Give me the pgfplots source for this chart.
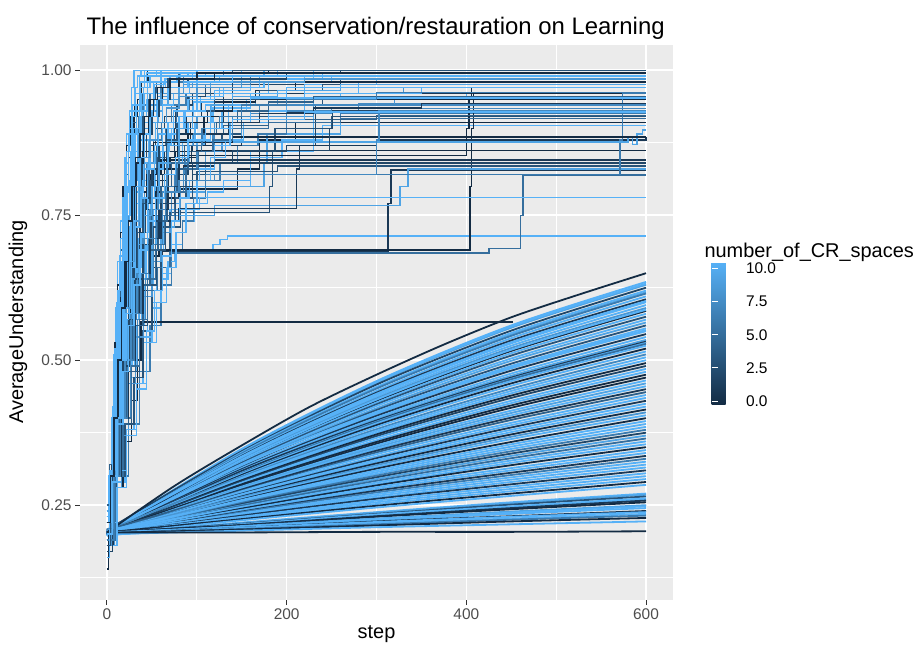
\documentclass[border=0pt]{standalone}
\usepackage{fontspec}
\setmainfont{Liberation Sans}
\usepackage{pgfplots}
\pgfplotsset{compat=1.18}
\pgfkeys{/pgf/number format/assume math mode=true}

\definecolor{panelbg}{HTML}{EBEBEB}
\definecolor{ticktext}{HTML}{4D4D4D}
\definecolor{tickmark}{HTML}{333333}
\definecolor{c0}{HTML}{132B43}
\definecolor{c10}{HTML}{56B1F7}
% colour of a run by its number_of_CR_spaces (0 ... 10)
\colorlet{k0}{c0}
\colorlet{k1}{c10!10!c0}
\colorlet{k2}{c10!20!c0}
\colorlet{k3}{c10!30!c0}
\colorlet{k4}{c10!40!c0}
\colorlet{k5}{c10!50!c0}
\colorlet{k6}{c10!60!c0}
\colorlet{k7}{c10!70!c0}
\colorlet{k8}{c10!80!c0}
\colorlet{k9}{c10!90!c0}
\colorlet{k10}{c10}

\pgfplotsset{
  lo/.style={line width=1.8bp, smooth, tension=0.5},
  up/.style={const plot, line width=1.4bp},
}

\begin{document}
\begin{tikzpicture}
\useasboundingbox (0,0) rectangle (914bp,646bp);
\begin{axis}[
  at={(80bp,46bp)}, anchor=south west,
  scale only axis, width=593bp, height=555bp,
  xmin=-30, xmax=630, ymin=0.0865, ymax=1.0435,
  xtick={0,200,400,600}, minor xtick={100,300,500},
  ytick={0.25,0.5,0.75,1}, minor ytick={0.125,0.375,0.625,0.875},
  grid=both,
  major grid style={white, line width=1.6bp},
  minor grid style={white, line width=0.8bp},
  axis background/.style={fill=panelbg},
  axis line style={draw=none},
  tick align=outside, tick pos=left,
  major tick length=5bp, minor tick length=0pt,
  tick style={tickmark, line width=1bp},
  ticklabel style={font=\fontsize{15.5}{18}\selectfont, text=ticktext},
  yticklabel style={/pgf/number format/fixed, /pgf/number format/fixed zerofill, /pgf/number format/precision=2},
  colormap={crsp}{rgb255(0cm)=(19,43,67); rgb255(1cm)=(86,177,247)},
  point meta min=-0.3, point meta max=10.5,
  colorbar,
  colorbar style={
    at={(parent axis.south east)}, anchor=south west,
    xshift=30bp, yshift=195bp,
    scale only axis, width=30bp, height=143bp,
    ytick={0,2.5,5,7.5,10},
    yticklabel pos=right,
    tick align=inside, major tick length=30bp,
    % a tick spans the bar; the dashes leave a short mark at each edge
    tick style={white, line width=1bp, dash pattern=on 6bp off 18bp on 6bp},
    axis line style={draw=none},
    yticklabel style={font=\fontsize{15.5}{18}\selectfont, text=black, xshift=1bp,
      /pgf/number format/fixed, /pgf/number format/fixed zerofill, /pgf/number format/precision=1},
  },
]
% ---- slow learners: runs that rise steadily over all 600 steps
\addplot[k10,lo] coordinates {(0,.205)(150,.347)(300,.464)(450,.560)(600,.635)};
\addplot[k9,lo] coordinates {(0,.200)(150,.345)(300,.461)(450,.556)(600,.630)};
\addplot[k10,lo] coordinates {(0,.201)(150,.346)(300,.462)(450,.558)(600,.632)};
\addplot[k2,lo] coordinates {(0,.207)(150,.343)(300,.458)(450,.551)(600,.625)};
\addplot[k10,lo] coordinates {(0,.198)(150,.341)(300,.454)(450,.547)(600,.620)};
\addplot[k9,lo] coordinates {(0,.203)(150,.340)(300,.452)(450,.544)(600,.617)};
\addplot[k6,lo] coordinates {(0,.202)(150,.339)(300,.451)(450,.542)(600,.615)};
\addplot[k10,lo] coordinates {(0,.204)(150,.337)(300,.447)(450,.538)(600,.610)};
\addplot[k1,lo] coordinates {(0,.199)(150,.335)(300,.444)(450,.534)(600,.605)};
\addplot[k10,lo] coordinates {(0,.201)(150,.334)(300,.442)(450,.531)(600,.602)};
\addplot[k10,lo] coordinates {(0,.206)(150,.333)(300,.440)(450,.529)(600,.600)};
\addplot[k10,lo] coordinates {(0,.200)(150,.331)(300,.437)(450,.525)(600,.595)};
\addplot[k8,lo] coordinates {(0,.201)(150,.329)(300,.434)(450,.521)(600,.590)};
\addplot[k0,lo] coordinates {(0,.203)(150,.327)(300,.430)(450,.516)(600,.585)};
\addplot[k10,lo] coordinates {(0,.199)(150,.328)(300,.432)(450,.518)(600,.587)};
\addplot[k10,lo] coordinates {(0,.197)(150,.325)(300,.427)(450,.512)(600,.580)};
\addplot[k3,lo] coordinates {(0,.202)(150,.323)(300,.424)(450,.508)(600,.575)};
\addplot[k10,lo] coordinates {(0,.205)(150,.321)(300,.421)(450,.503)(600,.570)};
\addplot[k9,lo] coordinates {(0,.200)(150,.319)(300,.417)(450,.499)(600,.565)};
\addplot[k3,lo] coordinates {(0,.200)(150,.317)(300,.414)(450,.494)(600,.560)};
\addplot[k10,lo] coordinates {(0,.200)(150,.319)(300,.411)(450,.490)(600,.555)};
\addplot[k10,lo] coordinates {(0,.203)(150,.314)(300,.409)(450,.488)(600,.552)};
\addplot[k10,lo] coordinates {(0,.208)(150,.313)(300,.407)(450,.486)(600,.550)};
\addplot[k1,lo] coordinates {(0,.202)(150,.312)(300,.404)(450,.482)(600,.545)};
\addplot[k10,lo] coordinates {(0,.199)(150,.310)(300,.401)(450,.477)(600,.540)};
\addplot[k9,lo] coordinates {(0,.199)(150,.308)(300,.398)(450,.473)(600,.535)};
\addplot[k1,lo] coordinates {(0,.200)(150,.309)(300,.396)(450,.470)(600,.532)};
\addplot[k9,lo] coordinates {(0,.200)(150,.306)(300,.394)(450,.468)(600,.530)};
\addplot[k5,lo] coordinates {(0,.202)(150,.305)(300,.393)(450,.467)(600,.528)};
\addplot[k10,lo] coordinates {(0,.204)(150,.304)(300,.391)(450,.464)(600,.525)};
\addplot[k0,lo] coordinates {(0,.201)(150,.302)(300,.388)(450,.460)(600,.520)};
\addplot[k10,lo] coordinates {(0,.198)(150,.300)(300,.385)(450,.456)(600,.515)};
\addplot[k7,lo] coordinates {(0,.206)(150,.299)(300,.381)(450,.451)(600,.510)};
\addplot[k10,lo] coordinates {(0,.200)(150,.297)(300,.378)(450,.447)(600,.505)};
\addplot[k10,lo] coordinates {(0,.198)(150,.295)(300,.375)(450,.443)(600,.500)};
\addplot[k0,lo] coordinates {(0,.203)(150,.293)(300,.372)(450,.439)(600,.495)};
\addplot[k2,lo] coordinates {(0,.203)(150,.291)(300,.369)(450,.435)(600,.490)};
\addplot[k10,lo] coordinates {(0,.200)(150,.289)(300,.366)(450,.430)(600,.485)};
\addplot[k10,lo] coordinates {(0,.200)(150,.288)(300,.362)(450,.426)(600,.480)};
\addplot[k0,lo] coordinates {(0,.200)(150,.286)(300,.359)(450,.422)(600,.475)};
\addplot[k0,lo] coordinates {(0,.205)(150,.284)(300,.356)(450,.418)(600,.470)};
\addplot[k10,lo] coordinates {(0,.202)(150,.282)(300,.353)(450,.413)(600,.465)};
\addplot[k9,lo] coordinates {(0,.202)(150,.281)(300,.350)(450,.409)(600,.460)};
\addplot[k10,lo] coordinates {(0,.199)(150,.279)(300,.347)(450,.405)(600,.455)};
\addplot[k1,lo] coordinates {(0,.201)(150,.277)(300,.344)(450,.401)(600,.450)};
\addplot[k4,lo] coordinates {(0,.207)(150,.275)(300,.341)(450,.397)(600,.445)};
\addplot[k10,lo] coordinates {(0,.201)(150,.274)(300,.338)(450,.392)(600,.440)};
\addplot[k10,lo] coordinates {(0,.200)(150,.272)(300,.334)(450,.388)(600,.435)};
\addplot[k1,lo] coordinates {(0,.203)(150,.270)(300,.331)(450,.384)(600,.430)};
\addplot[k10,lo] coordinates {(0,.204)(150,.269)(300,.328)(450,.380)(600,.425)};
\addplot[k10,lo] coordinates {(0,.198)(150,.267)(300,.325)(450,.376)(600,.420)};
\addplot[k0,lo] coordinates {(0,.200)(150,.265)(300,.322)(450,.372)(600,.415)};
\addplot[k8,lo] coordinates {(0,.204)(150,.264)(300,.319)(450,.368)(600,.410)};
\addplot[k10,lo] coordinates {(0,.200)(150,.262)(300,.316)(450,.364)(600,.405)};
\addplot[k0,lo] coordinates {(0,.200)(150,.260)(300,.313)(450,.359)(600,.400)};
\addplot[k10,lo] coordinates {(0,.202)(150,.259)(300,.310)(450,.355)(600,.395)};
\addplot[k10,lo] coordinates {(0,.206)(150,.257)(300,.307)(450,.351)(600,.390)};
\addplot[k10,lo] coordinates {(0,.201)(150,.255)(300,.304)(450,.347)(600,.385)};
\addplot[k6,lo] coordinates {(0,.199)(150,.254)(300,.301)(450,.343)(600,.380)};
\addplot[k2,lo] coordinates {(0,.199)(150,.252)(300,.298)(450,.339)(600,.375)};
\addplot[k9,lo] coordinates {(0,.203)(150,.250)(300,.295)(450,.335)(600,.370)};
\addplot[k5,lo] coordinates {(0,.200)(150,.249)(300,.292)(450,.331)(600,.365)};
\addplot[k10,lo] coordinates {(0,.205)(150,.247)(300,.289)(450,.327)(600,.360)};
\addplot[k10,lo] coordinates {(0,.201)(150,.246)(300,.286)(450,.323)(600,.355)};
\addplot[k0,lo] coordinates {(0,.200)(150,.244)(300,.284)(450,.319)(600,.350)};
\addplot[k10,lo] coordinates {(0,.203)(150,.242)(300,.281)(450,.314)(600,.345)};
\addplot[k10,lo] coordinates {(0,.202)(150,.241)(300,.278)(450,.310)(600,.340)};
\addplot[k1,lo] coordinates {(0,.200)(150,.239)(300,.275)(450,.306)(600,.335)};
\addplot[k6,lo] coordinates {(0,.198)(150,.238)(300,.272)(450,.302)(600,.330)};
\addplot[k10,lo] coordinates {(0,.200)(150,.236)(300,.269)(450,.298)(600,.325)};
\addplot[k10,lo] coordinates {(0,.204)(150,.235)(300,.266)(450,.294)(600,.320)};
\addplot[k10,lo] coordinates {(0,.201)(150,.233)(300,.263)(450,.290)(600,.315)};
\addplot[k1,lo] coordinates {(0,.201)(150,.232)(300,.261)(450,.286)(600,.310)};
\addplot[k10,lo] coordinates {(0,.202)(150,.230)(300,.258)(450,.282)(600,.305)};
\addplot[k10,lo] coordinates {(0,.199)(150,.229)(300,.255)(450,.278)(600,.300)};
\addplot[k10,lo] coordinates {(0,.200)(150,.227)(300,.252)(450,.274)(600,.295)};
\addplot[k0,lo] coordinates {(0,.203)(150,.226)(300,.249)(450,.270)(600,.290)};
\addplot[k10,lo] coordinates {(0,.200)(150,.224)(300,.246)(450,.266)(600,.285)};
\addplot[k10,lo] coordinates {(0,.200)(150,.220)(300,.238)(450,.255)(600,.270)};
\addplot[k9,lo] coordinates {(0,.201)(150,.219)(300,.237)(450,.253)(600,.268)};
\addplot[k3,lo] coordinates {(0,.202)(150,.218)(300,.235)(450,.251)(600,.265)};
\addplot[k10,lo] coordinates {(0,.200)(150,.217)(300,.234)(450,.248)(600,.262)};
\addplot[k10,lo] coordinates {(0,.198)(150,.217)(300,.232)(450,.247)(600,.260)};
\addplot[k1,lo] coordinates {(0,.203)(150,.216)(300,.231)(450,.245)(600,.258)};
\addplot[k0,lo] coordinates {(0,.204)(150,.215)(300,.230)(450,.243)(600,.255)};
\addplot[k9,lo] coordinates {(0,.200)(150,.214)(300,.227)(450,.239)(600,.250)};
\addplot[k10,lo] coordinates {(0,.202)(150,.213)(300,.226)(450,.237)(600,.248)};
\addplot[k10,lo] coordinates {(0,.203)(150,.213)(300,.224)(450,.235)(600,.245)};
\addplot[k1,lo] coordinates {(0,.201)(150,.211)(300,.222)(450,.231)(600,.240)};
\addplot[k10,lo] coordinates {(0,.200)(150,.211)(300,.221)(450,.230)(600,.238)};
\addplot[k10,lo] coordinates {(0,.199)(150,.210)(300,.219)(450,.227)(600,.235)};
\addplot[k6,lo] coordinates {(0,.201)(150,.209)(300,.217)(450,.225)(600,.232)};
\addplot[k0,lo] coordinates {(0,.202)(150,.208)(300,.215)(450,.222)(600,.228)};
\addplot[k10,lo] coordinates {(0,.200)(150,.206)(300,.212)(450,.217)(600,.222)};
\addplot[k0,lo] coordinates {(0,.203)(150,.203)(300,.204)(450,.204)(600,.205)};
\addplot[k0,lo] coordinates {(0,.203)(75,.283)(150,.353)(225,.419)(300,.475)(375,.527)(450,.574)(525,.613)(600,.650)};
% ---- fast learners: runs that climb within the first steps, then level off
\addplot[k10,up] coordinates {(0,.22)(2,.30)(5,.40)(7,.50)(10,.59)(12,.67)(15,.74)(17,.80)(20,.85)(22,.89)(25,.93)(27,.97)(30,1.0)(600,1.0)};
\addplot[k0,up] coordinates {(0,.19)(3,.30)(6,.40)(9,.50)(12,.59)(15,.67)(18,.74)(21,.80)(24,.85)(27,.89)(30,.92)(34,.95)(38,.98)(45,1.0)(600,1.0)};
\addplot[k10,up] coordinates {(0,.21)(8,.30)(16,.39)(24,.48)(33,.56)(42,.63)(52,.69)(63,.74)(76,.78)(90,.80)(160,.86)(230,.95)(600,.95)};
\addplot[k10,up] coordinates {(0,.2)(5,.29)(11,.38)(16,.47)(22,.55)(28,.63)(34,.70)(41,.76)(49,.81)(58,.85)(68,.89)(80,.92)(95,.95)(115,.97)(150,.985)(230,1.0)(600,1.0)};
\addplot[k6,up] coordinates {(0,.24)(4,.30)(7,.40)(11,.50)(14,.59)(18,.67)(21,.74)(25,.80)(28,.85)(32,.89)(35,.92)(40,.94)(48,.96)(60,.98)(85,.99)(130,1.0)(600,1.0)};
\addplot[k0,up] coordinates {(0,.2)(6,.30)(12,.40)(18,.50)(25,.58)(32,.65)(40,.71)(50,.75)(62,.78)(80,.795)(145,.83)(170,.88)(210,.91)(600,.91)};
\addplot[k9,up] coordinates {(0,.20)(4,.30)(8,.40)(12,.50)(16,.59)(20,.67)(24,.74)(28,.80)(32,.85)(36,.88)(42,.91)(50,.93)(62,.95)(80,.97)(115,.98)(170,.99)(600,.99)};
\addplot[k0,up] coordinates {(0,.21)(3,.31)(6,.42)(9,.53)(12,.63)(15,.72)(18,.80)(22,.87)(26,.92)(31,.96)(37,.98)(46,.99)(600,.99)};
\addplot[k9,up] coordinates {(0,.22)(7,.31)(14,.40)(21,.49)(28,.57)(36,.64)(44,.70)(54,.74)(66,.77)(82,.79)(110,.80)(175,.84)(178,.89)(260,.93)(600,.93)};
\addplot[k2,up] coordinates {(0,.18)(5,.30)(10,.40)(15,.50)(20,.59)(25,.67)(30,.74)(35,.80)(40,.84)(46,.87)(54,.90)(64,.92)(78,.94)(95,.96)(140,.975)(260,.985)(600,.985)};
\addplot[k10,up] coordinates {(0,.19)(9,.29)(18,.38)(27,.47)(36,.55)(45,.62)(55,.69)(65,.75)(76,.80)(88,.84)(100,.88)(115,.91)(135,.94)(165,.96)(220,.975)(300,.985)(600,.985)};
\addplot[k10,up] coordinates {(0,.19)(10,.29)(20,.38)(30,.46)(40,.53)(50,.59)(60,.65)(72,.70)(84,.74)(97,.77)(112,.79)(130,.81)(160,.85)(195,.88)(240,.905)(600,.905)};
\addplot[k10,up] coordinates {(0,.21)(5,.30)(9,.40)(14,.50)(18,.59)(23,.67)(27,.74)(32,.80)(36,.85)(41,.89)(46,.92)(55,.95)(70,.97)(100,.99)(190,1.0)(600,1.0)};
\addplot[k8,up] coordinates {(0,.23)(6,.30)(12,.40)(18,.50)(24,.59)(30,.67)(36,.74)(42,.79)(50,.83)(58,.86)(68,.88)(80,.90)(100,.92)(130,.94)(190,.96)(330,.97)(600,.97)};
\addplot[k2,up] coordinates {(0,.24)(5,.32)(10,.42)(15,.51)(20,.60)(26,.67)(32,.73)(38,.78)(46,.81)(56,.83)(70,.845)(90,.86)(200,.87)(232,.94)(600,.94)};
\addplot[k8,up] coordinates {(0,.23)(4,.31)(8,.41)(12,.51)(16,.60)(20,.68)(24,.75)(29,.81)(34,.86)(40,.90)(47,.93)(56,.955)(70,.97)(95,.98)(600,.98)};
\addplot[k1,up] coordinates {(0,.20)(6,.30)(11,.40)(17,.50)(22,.59)(28,.67)(33,.74)(39,.80)(44,.84)(52,.87)(62,.89)(75,.90)(95,.91)(130,.92)(200,.928)(600,.928)};
\addplot[k10,up] coordinates {(0,.2)(4,.30)(8,.40)(12,.50)(16,.59)(21,.66)(26,.72)(32,.77)(39,.81)(47,.84)(57,.87)(70,.89)(90,.91)(118,.935)(160,.96)(600,.96)};
\addplot[k10,up] coordinates {(0,.19)(7,.30)(14,.40)(21,.50)(28,.59)(35,.66)(42,.72)(50,.77)(58,.81)(68,.84)(80,.87)(95,.89)(115,.91)(150,.93)(220,.95)(400,.962)(600,.962)};
\addplot[k1,up] coordinates {(0,.2)(6,.30)(12,.40)(18,.49)(24,.57)(30,.64)(37,.71)(45,.77)(54,.82)(64,.86)(75,.89)(88,.92)(105,.945)(130,.96)(600,.96)};
\addplot[k6,up] coordinates {(0,.2)(12,.30)(24,.39)(36,.48)(48,.56)(60,.63)(72,.69)(84,.74)(96,.78)(110,.81)(126,.84)(145,.87)(168,.89)(200,.91)(260,.925)(600,.925)};
\addplot[k4,up] coordinates {(0,.25)(3,.32)(6,.42)(9,.52)(12,.61)(15,.69)(18,.76)(21,.82)(24,.87)(28,.91)(33,.94)(40,.96)(55,.98)(80,.995)(600,.995)};
\addplot[k10,up] coordinates {(0,.21)(7,.30)(14,.40)(21,.49)(28,.57)(35,.64)(43,.70)(52,.76)(61,.80)(72,.84)(84,.88)(98,.91)(116,.94)(140,.96)(180,.98)(250,.99)(600,.99)};
\addplot[k10,up] coordinates {(0,.22)(3,.31)(6,.42)(9,.52)(12,.62)(15,.71)(18,.78)(21,.84)(24,.89)(28,.93)(32,.96)(37,.98)(44,.995)(600,.995)};
\addplot[k7,up] coordinates {(0,.21)(8,.30)(16,.40)(24,.49)(32,.57)(40,.64)(48,.70)(56,.75)(65,.79)(75,.82)(87,.85)(100,.87)(120,.89)(150,.91)(200,.93)(280,.943)(600,.943)};
\addplot[k0,up] coordinates {(0,.14)(2,.20)(9,.28)(18,.36)(27,.43)(34,.50)(38,.566)(452,.566)};
\addplot[k1,up] coordinates {(0,.2)(5,.30)(10,.40)(15,.49)(20,.57)(25,.64)(31,.71)(37,.76)(44,.80)(52,.83)(62,.85)(75,.86)(95,.87)(150,.875)(400,.88)(600,.88)};
\addplot[k9,up] coordinates {(0,.18)(4,.29)(8,.39)(12,.49)(16,.58)(21,.66)(25,.73)(30,.79)(35,.84)(41,.88)(48,.91)(57,.94)(68,.96)(85,.98)(120,.995)(600,.995)};
\addplot[k10,up] coordinates {(0,.20)(10,.30)(20,.39)(30,.47)(40,.54)(50,.60)(60,.64)(68,.67)(75,.688)(118,.70)(126,.708)(134,.714)(600,.714)};
\addplot[k10,up] coordinates {(0,.21)(6,.30)(12,.40)(17,.49)(23,.57)(29,.65)(35,.71)(42,.77)(50,.82)(59,.86)(69,.89)(81,.92)(96,.945)(120,.965)(160,.98)(220,.99)(600,.99)};
\addplot[k1,up] coordinates {(0,.20)(8,.30)(16,.40)(24,.49)(32,.56)(40,.62)(50,.66)(62,.688)(313,.77)(316,.828)(600,.828)};
\addplot[k3,up] coordinates {(0,.22)(10,.30)(20,.39)(30,.47)(40,.55)(50,.62)(60,.68)(70,.73)(82,.78)(95,.82)(110,.86)(128,.89)(150,.92)(180,.94)(240,.955)(600,.955)};
\addplot[k8,up] coordinates {(0,.18)(8,.28)(16,.37)(24,.46)(32,.54)(41,.61)(50,.67)(60,.72)(70,.76)(82,.80)(95,.83)(110,.86)(128,.88)(150,.90)(180,.92)(230,.94)(320,.955)(600,.955)};
\addplot[k0,up] coordinates {(0,.22)(7,.30)(14,.40)(21,.50)(28,.58)(36,.64)(46,.68)(58,.69)(404,.80)(406,.90)(408,.96)(600,.96)};
\addplot[k5,up] coordinates {(0,.19)(9,.30)(18,.40)(27,.49)(36,.56)(45,.62)(56,.66)(70,.685)(425,.693)(460,.75)(463,.819)(600,.819)};
\addplot[k10,up] coordinates {(0,.2)(3,.30)(7,.41)(10,.52)(13,.62)(17,.71)(20,.79)(24,.86)(28,.92)(32,.96)(36,.99)(42,1.0)(600,1.0)};
\addplot[k10,up] coordinates {(0,.23)(4,.31)(8,.41)(11,.51)(15,.60)(19,.68)(22,.75)(26,.81)(30,.86)(34,.90)(39,.93)(45,.96)(53,.975)(64,.985)(82,.995)(600,.995)};
\addplot[k9,up] coordinates {(0,.21)(8,.30)(16,.40)(24,.49)(32,.57)(40,.64)(50,.70)(60,.73)(75,.75)(120,.767)(326,.80)(335,.83)(600,.83)};
\addplot[k10,up] coordinates {(0,.23)(6,.30)(12,.40)(19,.50)(26,.58)(34,.65)(44,.70)(55,.73)(70,.76)(103,.781)(600,.781)};
\addplot[k3,up] coordinates {(0,.21)(9,.30)(18,.39)(27,.48)(36,.56)(45,.63)(55,.69)(65,.74)(76,.78)(88,.81)(100,.825)(190,.835)(600,.835)};
\addplot[k6,up] coordinates {(0,.2)(5,.30)(10,.40)(15,.50)(20,.58)(26,.66)(31,.73)(37,.79)(44,.84)(52,.88)(61,.91)(72,.94)(88,.96)(110,.975)(160,.99)(600,.99)};
\addplot[k3,up] coordinates {(0,.20)(6,.30)(12,.40)(18,.50)(25,.58)(32,.65)(40,.70)(52,.73)(70,.755)(181,.80)(184,.86)(187,.90)(250,.92)(600,.92)};
\addplot[k10,up] coordinates {(0,.2)(7,.30)(13,.40)(20,.50)(26,.58)(33,.66)(39,.72)(46,.78)(54,.83)(63,.87)(74,.90)(87,.93)(104,.955)(130,.97)(175,.98)(600,.98)};
\addplot[k1,up] coordinates {(0,.18)(7,.30)(14,.40)(21,.50)(28,.58)(36,.65)(46,.71)(60,.74)(80,.762)(211,.83)(214,.87)(300,.88)(600,.885)};
\addplot[k10,up] coordinates {(0,.24)(8,.31)(15,.40)(23,.49)(31,.57)(39,.64)(47,.70)(56,.75)(66,.80)(78,.84)(92,.87)(108,.90)(128,.93)(155,.95)(200,.97)(280,.98)(600,.98)};
\addplot[k0,up] coordinates {(0,.21)(5,.30)(10,.40)(15,.50)(20,.59)(25,.67)(31,.74)(37,.79)(44,.82)(55,.84)(70,.85)(100,.862)(600,.862)};
\addplot[k10,up] coordinates {(0,.19)(5,.29)(10,.39)(15,.49)(20,.58)(25,.66)(30,.73)(35,.79)(41,.84)(47,.88)(54,.91)(62,.94)(74,.96)(92,.98)(125,.99)(175,1.0)(600,1.0)};
\addplot[k1,up] coordinates {(0,.20)(6,.30)(12,.40)(18,.50)(24,.58)(30,.65)(37,.71)(45,.76)(55,.80)(68,.82)(85,.835)(120,.845)(600,.845)};
\addplot[k0,up] coordinates {(0,.19)(7,.30)(13,.40)(20,.50)(26,.58)(33,.65)(40,.71)(48,.76)(57,.81)(67,.85)(79,.88)(93,.91)(112,.93)(140,.95)(600,.95)};
\addplot[k2,up] coordinates {(0,.22)(5,.30)(11,.40)(16,.50)(22,.59)(27,.66)(33,.72)(40,.77)(50,.80)(62,.82)(90,.84)(600,.84)};
\addplot[k0,up] coordinates {(0,.19)(5,.30)(10,.40)(15,.50)(20,.58)(26,.66)(32,.73)(39,.78)(48,.82)(60,.845)(80,.853)(400,.90)(403,.95)(406,.97)(600,.97)};
\addplot[k10,up] coordinates {(0,.21)(4,.30)(9,.40)(13,.50)(17,.59)(22,.67)(26,.74)(31,.80)(35,.85)(40,.89)(46,.93)(53,.96)(63,.98)(78,.99)(100,1.0)(600,1.0)};
\addplot[k6,up] coordinates {(0,.20)(6,.30)(13,.40)(19,.49)(26,.57)(33,.64)(41,.70)(50,.75)(62,.79)(78,.81)(110,.82)(571,.88)(574,.96)(600,.96)};
\addplot[k9,up] coordinates {(0,.21)(5,.30)(10,.40)(16,.50)(21,.59)(27,.67)(32,.74)(38,.80)(45,.84)(54,.86)(66,.876)(580,.884)(585,.872)(590,.89)(596,.897)(600,.897)};
\addplot[k5,up] coordinates {(0,.22)(6,.31)(11,.40)(17,.50)(22,.58)(28,.66)(34,.73)(40,.78)(47,.83)(55,.87)(65,.90)(77,.93)(92,.955)(115,.97)(150,.98)(600,.98)};
\addplot[k0,up] coordinates {(0,.23)(4,.30)(8,.40)(12,.50)(16,.59)(20,.67)(24,.74)(28,.80)(33,.84)(40,.86)(52,.875)(140,.885)(600,.885)};
\addplot[k8,up] coordinates {(0,.20)(4,.30)(8,.40)(11,.50)(15,.59)(19,.67)(23,.74)(27,.80)(31,.85)(35,.89)(40,.92)(48,.94)(60,.96)(85,.975)(150,.99)(600,.99)};
\addplot[k10,up] coordinates {(0,.18)(11,.28)(22,.37)(33,.45)(44,.53)(55,.60)(66,.66)(77,.72)(88,.77)(100,.81)(115,.85)(132,.88)(152,.91)(180,.94)(220,.96)(280,.975)(600,.975)};
\addplot[k0,up] coordinates {(0,.22)(6,.30)(12,.40)(18,.49)(24,.57)(30,.64)(37,.70)(45,.75)(54,.79)(64,.83)(76,.86)(90,.89)(108,.92)(130,.945)(165,.965)(210,.98)(600,.98)};
\addplot[k10,up] coordinates {(0,.22)(3,.30)(6,.40)(10,.50)(13,.59)(16,.67)(19,.74)(22,.80)(26,.86)(29,.90)(33,.94)(37,.97)(42,.99)(55,1.0)(600,1.0)};
\addplot[k3,up] coordinates {(0,.21)(6,.30)(11,.40)(17,.50)(22,.58)(28,.66)(34,.72)(40,.77)(48,.81)(56,.85)(66,.88)(78,.91)(95,.93)(120,.95)(170,.965)(240,.975)(600,.975)};
\addplot[k2,up] coordinates {(0,.21)(5,.30)(10,.40)(14,.50)(19,.59)(24,.67)(29,.74)(33,.80)(38,.85)(44,.89)(50,.92)(58,.95)(70,.97)(90,.985)(600,.985)};
\addplot[k10,up] coordinates {(0,.20)(5,.30)(10,.40)(15,.50)(20,.59)(25,.67)(30,.74)(35,.79)(41,.83)(48,.86)(57,.89)(68,.91)(85,.93)(110,.94)(160,.952)(600,.952)};
\addplot[k7,up] coordinates {(0,.24)(7,.30)(13,.40)(20,.50)(26,.58)(33,.65)(40,.71)(48,.76)(57,.80)(67,.84)(80,.87)(96,.89)(120,.91)(160,.925)(250,.934)(600,.934)};
\addplot[k10,up] coordinates {(0,.2)(6,.30)(13,.40)(19,.50)(25,.58)(32,.66)(38,.72)(45,.78)(53,.83)(62,.87)(72,.90)(85,.93)(100,.955)(125,.97)(170,.985)(240,.995)(600,.995)};
\addplot[k2,up] coordinates {(0,.17)(6,.30)(12,.40)(18,.50)(24,.58)(30,.66)(36,.72)(43,.78)(50,.83)(58,.87)(66,.90)(76,.93)(90,.955)(110,.97)(140,.985)(200,.995)(260,1.0)(600,1.0)};
\addplot[k10,up] coordinates {(0,.19)(4,.30)(7,.40)(11,.50)(14,.59)(18,.67)(21,.74)(25,.80)(28,.85)(32,.89)(36,.93)(42,.96)(52,.98)(70,.99)(110,.995)(600,.995)};
\addplot[k7,up] coordinates {(0,.23)(9,.31)(17,.40)(26,.49)(34,.57)(43,.64)(52,.70)(62,.75)(72,.79)(85,.83)(100,.86)(118,.89)(140,.92)(170,.94)(600,.94)};
\addplot[k5,up] coordinates {(0,.21)(9,.30)(18,.40)(27,.49)(36,.57)(45,.64)(54,.70)(64,.75)(75,.79)(88,.83)(102,.86)(118,.88)(140,.90)(180,.91)(260,.917)(600,.917)};
\addplot[k0,up] coordinates {(0,.20)(4,.30)(9,.40)(13,.50)(18,.59)(22,.67)(27,.74)(31,.80)(36,.85)(41,.89)(46,.92)(52,.95)(62,.97)(80,.985)(120,.995)(180,1.0)(600,1.0)};
\addplot[k10,up] coordinates {(0,.22)(12,.31)(22,.38)(33,.46)(44,.55)(53,.62)(62,.68)(72,.74)(81,.78)(92,.81)(103,.83)(120,.87)(137,.91)(160,.93)(200,.95)(260,.96)(350,.97)(600,.97)};
\addplot[k10,up] coordinates {(0,.19)(4,.30)(7,.40)(11,.50)(14,.60)(18,.68)(21,.75)(25,.81)(28,.86)(32,.90)(36,.94)(41,.97)(48,.99)(60,1.0)(600,1.0)};
\addplot[k4,up] coordinates {(0,.20)(7,.30)(14,.40)(21,.50)(28,.58)(35,.65)(42,.71)(50,.76)(60,.80)(72,.84)(86,.87)(105,.89)(130,.905)(180,.915)(300,.922)(600,.922)};
\addplot[k10,up] coordinates {(0,.21)(4,.30)(8,.40)(11,.50)(15,.59)(19,.67)(23,.74)(27,.80)(30,.85)(34,.89)(38,.92)(44,.95)(52,.97)(65,.985)(95,.995)(150,1.0)(600,1.0)};
\addplot[k4,up] coordinates {(0,.2)(8,.30)(16,.39)(24,.48)(32,.56)(40,.63)(48,.69)(57,.74)(67,.79)(78,.83)(90,.86)(105,.89)(122,.91)(145,.93)(180,.945)(230,.955)(600,.955)};
\addplot[k8,up] coordinates {(0,.18)(5,.30)(10,.40)(16,.50)(21,.59)(26,.67)(31,.74)(36,.80)(42,.85)(48,.88)(56,.91)(66,.935)(80,.955)(100,.97)(150,.98)(220,.985)(600,.985)};
\addplot[k1,up] coordinates {(0,.22)(8,.30)(16,.40)(24,.50)(32,.58)(40,.65)(48,.71)(58,.76)(68,.80)(80,.84)(94,.87)(110,.89)(135,.91)(170,.925)(230,.935)(350,.943)(600,.943)};
\addplot[k10,up] coordinates {(0,.23)(5,.31)(9,.40)(14,.50)(18,.59)(23,.67)(27,.74)(32,.80)(37,.85)(42,.89)(48,.92)(56,.95)(68,.97)(90,.98)(140,.99)(600,.99)};
\addplot[k6,up] coordinates {(0,.19)(8,.30)(15,.40)(23,.50)(30,.58)(38,.65)(46,.71)(55,.76)(65,.80)(77,.84)(90,.87)(106,.90)(125,.92)(150,.94)(200,.95)(300,.962)(600,.962)};
\addplot[k10,up] coordinates {(0,.20)(3,.30)(6,.41)(8,.51)(11,.60)(14,.68)(17,.75)(20,.81)(22,.86)(25,.90)(28,.94)(31,.97)(34,.99)(38,1.0)(600,1.0)};
\addplot[k9,up] coordinates {(0,.24)(6,.31)(12,.40)(17,.49)(23,.57)(29,.64)(35,.70)(42,.75)(50,.80)(58,.84)(68,.87)(80,.90)(95,.92)(115,.94)(140,.955)(190,.965)(260,.975)(600,.975)};
\addplot[k2,up] coordinates {(0,.20)(6,.30)(12,.40)(18,.49)(25,.57)(32,.64)(40,.70)(49,.74)(60,.77)(75,.80)(95,.84)(140,.862)(248,.90)(251,.93)(600,.93)};
\addplot[k10,up] coordinates {(0,.16)(3,.28)(7,.39)(10,.50)(13,.59)(17,.67)(20,.74)(23,.80)(26,.85)(30,.89)(33,.93)(38,.96)(45,.98)(60,.99)(90,.995)(600,.995)};
\addplot[k7,up] coordinates {(0,.21)(7,.30)(13,.40)(20,.50)(27,.58)(34,.65)(42,.71)(51,.76)(62,.79)(80,.81)(120,.82)(300,.88)(303,.93)(600,.93)};
\addplot[k3,up] coordinates {(0,.18)(4,.30)(8,.40)(12,.50)(16,.59)(20,.67)(24,.74)(28,.80)(32,.85)(36,.89)(40,.92)(46,.95)(54,.97)(68,.985)(100,.995)(140,1.0)(600,1.0)};
\addplot[k10,up] coordinates {(0,.22)(5,.30)(11,.40)(16,.50)(21,.58)(27,.66)(32,.73)(38,.78)(45,.83)(53,.87)(62,.90)(74,.93)(90,.95)(120,.96)(200,.97)(600,.97)};
\addplot[k0,up] coordinates {(0,.22)(4,.30)(8,.40)(12,.50)(16,.59)(20,.67)(24,.74)(28,.80)(32,.85)(37,.89)(42,.92)(48,.95)(56,.97)(70,.985)(100,.995)(600,.995)};
\addplot[k10,up] coordinates {(0,.20)(6,.29)(12,.39)(18,.48)(24,.56)(30,.63)(37,.69)(45,.74)(54,.78)(64,.82)(76,.85)(90,.88)(110,.90)(140,.915)(220,.928)(600,.928)};
\end{axis}
\node[anchor=base west, font=\fontsize{24}{28}\selectfont] at (83bp,611bp) {The influence of conservation/restauration on Learning};
\node[anchor=base, font=\fontsize{20}{24}\selectfont] at (376.5bp,8bp) {step};
\node[rotate=90, font=\fontsize{20}{24}\selectfont] at (18bp,324bp) {AverageUnderstanding};
\node[anchor=base west, font=\fontsize{20}{24}\selectfont] at (701bp,388bp) {number\_of\_CR\_spaces};
\end{tikzpicture}
\end{document}
